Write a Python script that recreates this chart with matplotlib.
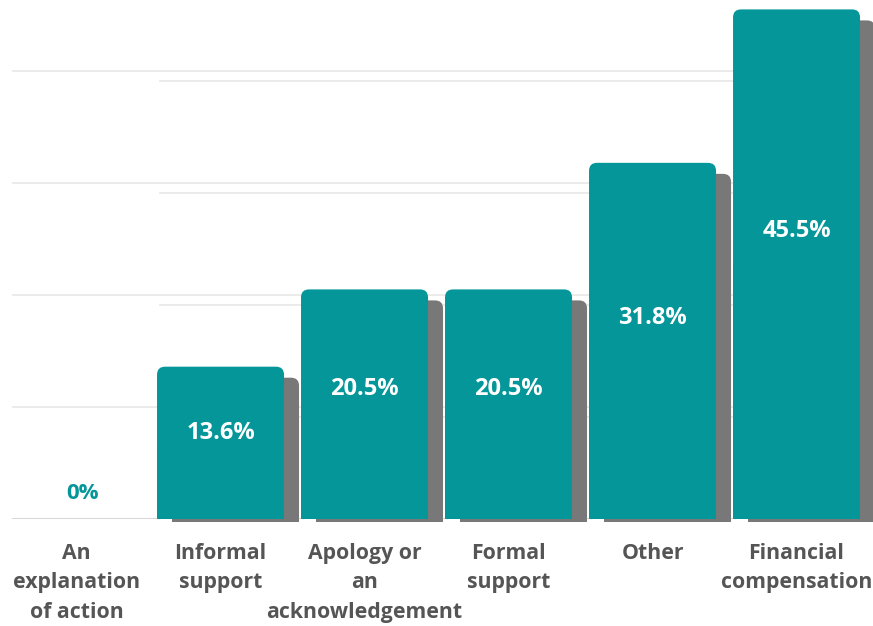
import matplotlib
matplotlib.use("Agg")
import matplotlib.pyplot as plt
import matplotlib.transforms as mtransforms
from matplotlib.patches import FancyBboxPatch, Rectangle

categories = ["An\nexplanation\nof action", "Informal\nsupport", "Apology or\nan\nacknowledgement",
              "Formal\nsupport", "Other", "Financial\ncompensation"]
values = [0.0, 13.6, 20.5, 20.5, 31.8, 45.5]
value_labels = ["0%", "13.6%", "20.5%", "20.5%", "31.8%", "45.5%"]
grid_levels = [10, 20, 30, 40]

TEAL = "#05969a"
SHADOW = "#787878"
GRID = "#e8e8e8"
TEXT = "#555555"

W, H, DPI = 873, 626, 100
fig = plt.figure(figsize=(W / DPI, H / DPI), dpi=DPI)
ax = fig.add_axes([12 / W, 107 / H, 861 / W, 519 / H])
ax.set_xlim(-0.448, 5.531)
ax.set_ylim(0, 46.34)
ax.axis("off")

# pixels per data unit
px_x = 861 / (5.531 + 0.448)
px_y = 519 / 46.34
width = 127 / px_x
rad_x = 8 / px_x
aspect = (8 / px_y) / rad_x

shift = mtransforms.ScaledTranslation(15 / DPI, -11 / DPI, fig.dpi_scale_trans)
grid_shift = mtransforms.ScaledTranslation(0, -10 / DPI, fig.dpi_scale_trans)


def top_rounded(x0, y0, w, h, color, transform=None, clip=True):
    # rounded box on top, plain rectangle covering the bottom corners
    kw = dict(facecolor=color, edgecolor="none", linewidth=0)
    if transform is not None:
        kw["transform"] = transform
    r = FancyBboxPatch((x0, y0), w, h, boxstyle=f"round,pad=0,rounding_size={rad_x}",
                       mutation_aspect=aspect, **kw)
    b = Rectangle((x0, y0), w, h / 2, **kw)
    for p in (r, b):
        ax.add_patch(p)
        p.set_clip_on(clip)
    return r, b


# gridlines: main + shifted shadow copy
for g in grid_levels:
    ax.plot([-0.448, 5.531], [g, g], color=GRID, lw=1.2, zorder=0)
    ax.plot([(160 - 76.5) / px_x, 5.531], [g, g], color=GRID, lw=1.2, zorder=0,
            transform=ax.transData + grid_shift, clip_on=False)
ax.plot([-0.448, 5.531], [0, 0], color="#cfcfcf", lw=1.2, zorder=0.5)

base_off = 8 / px_y
for i, v in enumerate(values):
    if v <= 0:
        continue
    top_rounded(i - width / 2, base_off, width, v - base_off, SHADOW,
                transform=ax.transData + shift, clip=False)
for i, v in enumerate(values):
    if v <= 0:
        continue
    top_rounded(i - width / 2, 0, width, v, TEAL)

for i, (v, lab) in enumerate(zip(values, value_labels)):
    if v <= 0:
        ax.text(i + 0.045, 2.3, lab, ha="center", va="center", color=TEAL,
                fontsize=16, fontweight="bold", family="Open Sans")
    else:
        ax.text(i, v * 0.565, lab, ha="center", va="center", color="white",
                fontsize=17, fontweight="bold", family="Open Sans")

for i, c in enumerate(categories):
    ax.text(i, -2.1, c, ha="center", va="top", color=TEXT, fontsize=15.3,
            fontweight="bold", family="Open Sans", linespacing=1.55, clip_on=False)

fig.savefig("out.png", dpi=DPI)
